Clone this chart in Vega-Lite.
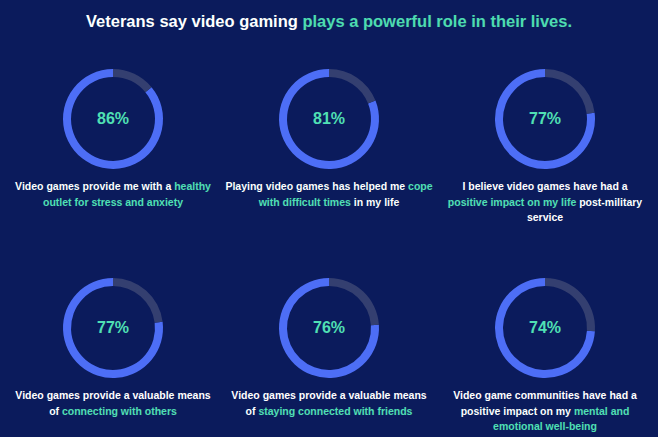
{
  "$schema": "https://vega.github.io/schema/vega-lite/v6.json",
  "padding": {"left": 8, "top": 13, "right": 8, "bottom": 4},
  "background": "#0b1b5c",
  "bounds": "flush",
  "title": {
    "text": "Veterans say video gaming plays a powerful role in their lives.",
    "font": "Liberation Sans",
    "fontSize": 16.5,
    "fontWeight": "bold",
    "anchor": "middle",
    "offset": 4,
    "color": {"value": {"gradient": "linear", "x1": 0, "y1": 0, "x2": 1, "y2": 0, "stops": [{"offset": 0, "color": "#ffffff"}, {"offset": 0.4416, "color": "#ffffff"}, {"offset": 0.4416, "color": "#4ddcb0"}, {"offset": 1, "color": "#4ddcb0"}]}}
  },
  "data": {
    "values": [
      {"q": 1, "kind": "arc", "part": "yes", "v": 86},
      {"q": 1, "kind": "arc", "part": "no", "v": 14},
      {"q": 1, "kind": "pct", "label": "86%"},
      {"q": 1, "kind": "line", "line": 1, "text": "Video games provide me with a healthy"},
      {"q": 1, "kind": "line", "line": 2, "text": "outlet for stress and anxiety"},
      {"q": 2, "kind": "arc", "part": "yes", "v": 81},
      {"q": 2, "kind": "arc", "part": "no", "v": 19},
      {"q": 2, "kind": "pct", "label": "81%"},
      {"q": 2, "kind": "line", "line": 1, "text": "Playing video games has helped me cope"},
      {"q": 2, "kind": "line", "line": 2, "text": "with difficult times in my life"},
      {"q": 3, "kind": "arc", "part": "yes", "v": 77},
      {"q": 3, "kind": "arc", "part": "no", "v": 23},
      {"q": 3, "kind": "pct", "label": "77%"},
      {"q": 3, "kind": "line", "line": 1, "text": "I believe video games have had a"},
      {"q": 3, "kind": "line", "line": 2, "text": "positive impact on my life post-military"},
      {"q": 3, "kind": "line", "line": 3, "text": "service"},
      {"q": 4, "kind": "arc", "part": "yes", "v": 77},
      {"q": 4, "kind": "arc", "part": "no", "v": 23},
      {"q": 4, "kind": "pct", "label": "77%"},
      {"q": 4, "kind": "line", "line": 1, "text": "Video games provide a valuable means"},
      {"q": 4, "kind": "line", "line": 2, "text": "of connecting with others"},
      {"q": 5, "kind": "arc", "part": "yes", "v": 76},
      {"q": 5, "kind": "arc", "part": "no", "v": 24},
      {"q": 5, "kind": "pct", "label": "76%"},
      {"q": 5, "kind": "line", "line": 1, "text": "Video games provide a valuable means"},
      {"q": 5, "kind": "line", "line": 2, "text": "of staying connected with friends"},
      {"q": 6, "kind": "arc", "part": "yes", "v": 74},
      {"q": 6, "kind": "arc", "part": "no", "v": 26},
      {"q": 6, "kind": "pct", "label": "74%"},
      {"q": 6, "kind": "line", "line": 1, "text": "Video game communities have had a"},
      {"q": 6, "kind": "line", "line": 2, "text": "positive impact on my mental and"},
      {"q": 6, "kind": "line", "line": 3, "text": "emotional well-being"}
    ]
  },
  "facet": {"field": "q", "type": "ordinal", "title": null, "header": {"labels": false, "title": null, "labelExpr": "''", "labelFontSize": 1, "labelPadding": 0, "labelColor": "#0b1b5c", "titlePadding": 0}},
  "columns": 3,
  "spacing": {"column": 6, "row": 41},
  "spec": {
    "width": 210,
    "height": 168,
    "layer": [
      {
        "transform": [{"filter": "datum.kind === 'arc'"}],
        "mark": {"type": "arc", "outerRadius": 50, "innerRadius": 42},
        "encoding": {
          "theta": {"field": "v", "type": "quantitative", "stack": true},
          "color": {"field": "part", "type": "nominal", "scale": {"domain": ["yes", "no"], "range": ["#4d6ef6", "#343f70"]}, "legend": null},
          "order": {"field": "part", "sort": "ascending"}
        }
      },
      {
        "transform": [{"filter": "datum.kind === 'pct'"}],
        "mark": {"type": "text", "font": "Liberation Sans", "fontSize": 16, "fontWeight": "bold", "color": "#50e0b4", "baseline": "middle", "align": "center"},
        "encoding": {"text": {"field": "label", "type": "nominal"}}
      },
      {
        "transform": [{"filter": "datum.kind === 'line'"}],
        "mark": {"type": "text", "font": "Liberation Sans", "fontSize": 10.5, "fontWeight": "bold", "baseline": "middle", "align": "center"},
        "encoding": {
          "text": {"field": "text", "type": "nominal"},
          "y": {"field": "line", "type": "quantitative", "scale": {"domain": [1, 3], "range": [152, 183]}, "axis": null},
          "color": {
            "condition": [
              {"test": "datum.q === 1 && datum.line === 1", "value": {"gradient": "linear", "x1": 0, "y1": 0, "x2": 1, "y2": 0, "stops": [{"offset": 0, "color": "#ffffff"}, {"offset": 0.8051, "color": "#ffffff"}, {"offset": 0.8051, "color": "#50e0b4"}, {"offset": 1, "color": "#50e0b4"}]}},
              {"test": "datum.q === 1 && datum.line === 2", "value": "#50e0b4"},
              {"test": "datum.q === 2 && datum.line === 1", "value": {"gradient": "linear", "x1": 0, "y1": 0, "x2": 1, "y2": 0, "stops": [{"offset": 0, "color": "#ffffff"}, {"offset": 0.8747, "color": "#ffffff"}, {"offset": 0.8747, "color": "#50e0b4"}, {"offset": 1, "color": "#50e0b4"}]}},
              {"test": "datum.q === 2 && datum.line === 2", "value": {"gradient": "linear", "x1": 0, "y1": 0, "x2": 1, "y2": 0, "stops": [{"offset": 0, "color": "#50e0b4"}, {"offset": 0.6659, "color": "#50e0b4"}, {"offset": 0.6659, "color": "#ffffff"}, {"offset": 1, "color": "#ffffff"}]}},
              {"test": "datum.q === 3 && datum.line === 2", "value": {"gradient": "linear", "x1": 0, "y1": 0, "x2": 1, "y2": 0, "stops": [{"offset": 0, "color": "#50e0b4"}, {"offset": 0.6682, "color": "#50e0b4"}, {"offset": 0.6682, "color": "#ffffff"}, {"offset": 1, "color": "#ffffff"}]}},
              {"test": "datum.q === 4 && datum.line === 2", "value": {"gradient": "linear", "x1": 0, "y1": 0, "x2": 1, "y2": 0, "stops": [{"offset": 0, "color": "#ffffff"}, {"offset": 0.089, "color": "#ffffff"}, {"offset": 0.089, "color": "#50e0b4"}, {"offset": 1, "color": "#50e0b4"}]}},
              {"test": "datum.q === 5 && datum.line === 2", "value": {"gradient": "linear", "x1": 0, "y1": 0, "x2": 1, "y2": 0, "stops": [{"offset": 0, "color": "#ffffff"}, {"offset": 0.0681, "color": "#ffffff"}, {"offset": 0.0681, "color": "#50e0b4"}, {"offset": 1, "color": "#50e0b4"}]}},
              {"test": "datum.q === 6 && datum.line === 2", "value": {"gradient": "linear", "x1": 0, "y1": 0, "x2": 1, "y2": 0, "stops": [{"offset": 0, "color": "#ffffff"}, {"offset": 0.6626, "color": "#ffffff"}, {"offset": 0.6626, "color": "#50e0b4"}, {"offset": 1, "color": "#50e0b4"}]}},
              {"test": "datum.q === 6 && datum.line === 3", "value": "#50e0b4"}
            ],
            "value": "#ffffff"
          }
        }
      }
    ]
  },
  "config": {
    "view": {"stroke": null},
    "header": {"labels": false, "title": null, "labelPadding": 0, "titlePadding": 0},
    "headerFacet": {"labels": false, "title": null, "labelPadding": 0, "titlePadding": 0}
  }
}
